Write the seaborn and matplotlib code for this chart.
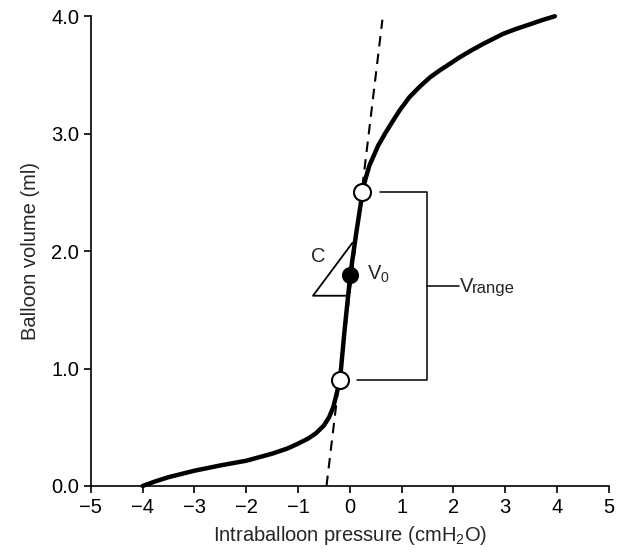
import matplotlib
matplotlib.use("Agg")
import matplotlib.pyplot as plt
import seaborn as sns
import pandas as pd

# ---- data ----
pressure = [-4.0, -3.75, -3.5, -3.0, -2.5, -2.0, -1.5, -1.2, -1.0, -0.8, -0.65, -0.5,
            -0.4, -0.32, -0.26, -0.19, -0.1, 0.01, 0.12, 0.245, 0.3, 0.38, 0.45,
            0.55, 0.68, 0.82, 0.965, 1.15, 1.35, 1.55, 1.74, 1.95, 2.12, 2.35, 2.6,
            2.96, 3.2, 3.47, 3.7, 3.96]
volume = [0.0, 0.04, 0.075, 0.13, 0.175, 0.215, 0.275, 0.32, 0.36, 0.405, 0.45, 0.515,
          0.585, 0.67, 0.775, 0.9, 1.33, 1.80, 2.14, 2.5, 2.61, 2.73, 2.80,
          2.90, 3.00, 3.10, 3.20, 3.31, 3.40, 3.48, 3.54, 3.60, 3.65, 3.71, 3.77,
          3.85, 3.89, 3.93, 3.965, 4.0]

tangent_x = [-0.45, 0.63]
tangent_y = [0.0, 3.97]

open_x = [0.245, -0.19]
open_y = [2.5, 0.9]
v0_x = [0.01]
v0_y = [1.80]

triangle_x = [-0.03, -0.71, 0.05]
triangle_y = [1.62, 1.62, 2.07]

bracket_x = [0.58, 1.5, 1.5, 0.14]
bracket_y = [2.5, 2.5, 0.9, 0.9]
bracket_mid_x = [1.5, 2.1]
bracket_mid_y = [1.70, 1.70]

x_ticks = [-5, -4, -3, -2, -1, 0, 1, 2, 3, 4, 5]
y_ticks = [0.0, 1.0, 2.0, 3.0, 4.0]

# ---- style ----
sns.set_theme(style="ticks")
plt.rcParams["font.family"] = ["Liberation Sans", "DejaVu Sans"]
plt.rcParams["mathtext.fontset"] = "custom"
plt.rcParams["mathtext.rm"] = "Liberation Sans"
plt.rcParams["mathtext.it"] = "Liberation Sans:italic"

fig = plt.figure(figsize=(6.18, 5.52), dpi=100)
ax = fig.add_axes([0.147, 0.1196, 0.838, 0.851])

df = pd.DataFrame({"p": pressure, "v": volume})
sns.lineplot(data=df, x="p", y="v", sort=False, color="black", linewidth=3.2,
             ax=ax, clip_on=False, zorder=3, solid_joinstyle="round",
             solid_capstyle="round")

sns.lineplot(x=tangent_x, y=tangent_y, color="black", linewidth=1.5,
             linestyle=(0, (5, 3.5)), ax=ax, clip_on=False, zorder=2)

ax.plot(triangle_x, triangle_y, color="black", linewidth=1.3, zorder=2)
ax.plot(bracket_x, bracket_y, color="black", linewidth=1.1, zorder=2)
ax.plot(bracket_mid_x, bracket_mid_y, color="black", linewidth=1.1, zorder=2)

sns.scatterplot(x=open_x, y=open_y, s=150, facecolor="white", edgecolor="black",
                linewidth=1.5, ax=ax, zorder=5)
sns.scatterplot(x=v0_x, y=v0_y, s=130, color="black", edgecolor="black",
                ax=ax, zorder=5)

ax.text(-0.6, 1.95, "C", fontsize=14.5, ha="center", va="center")
ax.text(0.33, 1.80, r"V$_{\mathrm{0}}$", fontsize=14.5, ha="left", va="center")
ax.text(2.12, 1.70, "V", fontsize=14.5, ha="left", va="center")
ax.text(2.35, 1.68, "range", fontsize=12, ha="left", va="center")

ax.set_xlim(-5, 5)
ax.set_ylim(0, 4)
ax.set_xticks(x_ticks)
ax.set_yticks(y_ticks)
ax.set_yticklabels([f"{t:.1f}" for t in y_ticks])
ax.tick_params(axis="both", direction="out", length=5, width=1.2, labelsize=14.5,
               color="black", labelcolor="black")
ax.set_xlabel(r"Intraballoon pressure (cmH$_{\mathrm{2}}$O)", fontsize=14.5, labelpad=5)
ax.set_ylabel("Balloon volume (ml)", fontsize=14.5, labelpad=8)
for s in ["left", "bottom"]:
    ax.spines[s].set_color("black")
    ax.spines[s].set_linewidth(1.2)
sns.despine(ax=ax)

fig.savefig("out.png", dpi=100)
